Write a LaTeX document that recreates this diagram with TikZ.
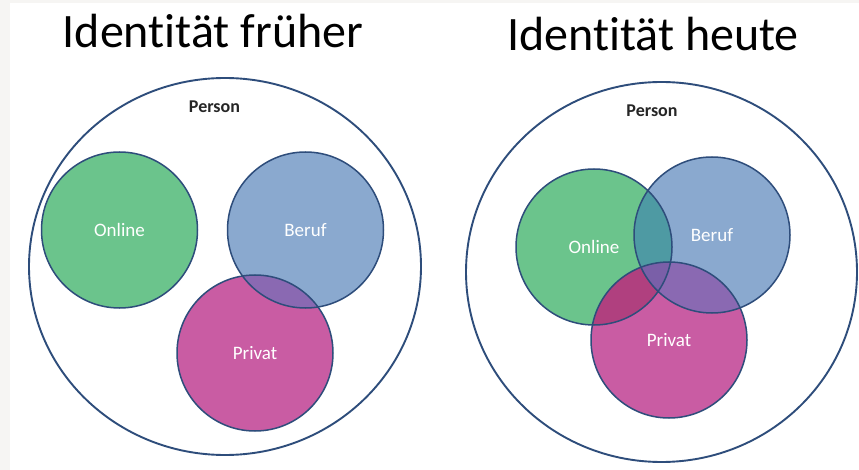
\documentclass[tikz,border=0pt]{standalone}
\usepackage{fontspec}
\setmainfont{Carlito}[Ligatures=NoCommon]
\usetikzlibrary{shapes.geometric}

% fills of the three spheres and of their overlaps
\definecolor{rim}{HTML}{2E4D7B}
\definecolor{cOnline}{HTML}{6BC48C}
\definecolor{cBeruf}{HTML}{8AA9CF}
\definecolor{cPrivat}{HTML}{C95CA3}
\definecolor{cOB}{HTML}{4E9AA3}
\definecolor{cOP}{HTML}{B0407F}
\definecolor{cBP}{HTML}{8A69B2}
\definecolor{cOBP}{HTML}{7A5FA8}
\definecolor{margin}{HTML}{F6F5F3}

\begin{document}
\begin{tikzpicture}[x=1pt,y=-1pt,
  heading/.style={font=\fontsize{48}{52}\selectfont, text=black, inner sep=0pt},
  personlabel/.style={font=\fontsize{18}{20}\selectfont\bfseries, text=black!85, inner sep=0pt},
  outer/.style={ellipse, draw=rim, line width=1.9pt, inner sep=0pt},
  sphere/.style={circle, minimum size=156pt, inner sep=0pt},
  spherelabel/.style={text=white, font=\fontsize{19}{21}\selectfont, inner sep=0pt},
  rimline/.style={draw=rim, line width=1.5pt}]

% page and its thin grey margin
\fill[margin] (0,0) rectangle (859,470);
\fill[white] (10,3) rectangle (859,470);
\useasboundingbox (0,0) rectangle (859,470);

% ---------- left panel: separate spheres ----------
\node[heading] (tL) at (213,31) {Identität früher};
\node[outer, minimum width=392pt, minimum height=377pt] (pL) at (225,266.5) {};
\node[personlabel] (nL) at (214.5,107) {Person};

\node[sphere, fill=cOnline] (oL) at (119.5,230) {};
\node[sphere, fill=cBeruf]  (bL) at (305.5,230) {};
\node[sphere, fill=cPrivat] (vL) at (255,353) {};
\begin{scope}
  \clip (bL.center) circle (78pt);
  \fill[cBP] (vL.center) circle (78pt);
\end{scope}
\foreach \s in {oL,bL,vL} \draw[rimline] (\s.center) circle (78pt);
\node[spherelabel] (oLt) at (oL.center) {Online};
\node[spherelabel] (bLt) at (bL.center) {Beruf};
\node[spherelabel] (vLt) at (vL.center) {Privat};

% ---------- right panel: overlapping spheres ----------
\node[heading] (tR) at (653,34) {Identität heute};
\node[outer, minimum width=391pt, minimum height=380pt] (pR) at (661.5,272) {};
\node[personlabel] (nR) at (652,111) {Person};

\node[sphere, fill=cOnline] (oR) at (594,247) {};
\node[sphere, fill=cBeruf]  (bR) at (712,235) {};
\node[sphere, fill=cPrivat] (vR) at (669,340) {};
\begin{scope}
  \clip (oR.center) circle (78pt);
  \fill[cOB] (bR.center) circle (78pt);
\end{scope}
\begin{scope}
  \clip (oR.center) circle (78pt);
  \fill[cOP] (vR.center) circle (78pt);
\end{scope}
\begin{scope}
  \clip (bR.center) circle (78pt);
  \fill[cBP] (vR.center) circle (78pt);
\end{scope}
\begin{scope}
  \clip (oR.center) circle (78pt);
  \clip (bR.center) circle (78pt);
  \fill[cOBP] (vR.center) circle (78pt);
\end{scope}
\foreach \s in {oR,bR,vR} \draw[rimline] (\s.center) circle (78pt);
\node[spherelabel] (oRt) at (oR.center) {Online};
\node[spherelabel] (bRt) at (bR.center) {Beruf};
\node[spherelabel] (vRt) at (vR.center) {Privat};
\end{tikzpicture}
\end{document}
